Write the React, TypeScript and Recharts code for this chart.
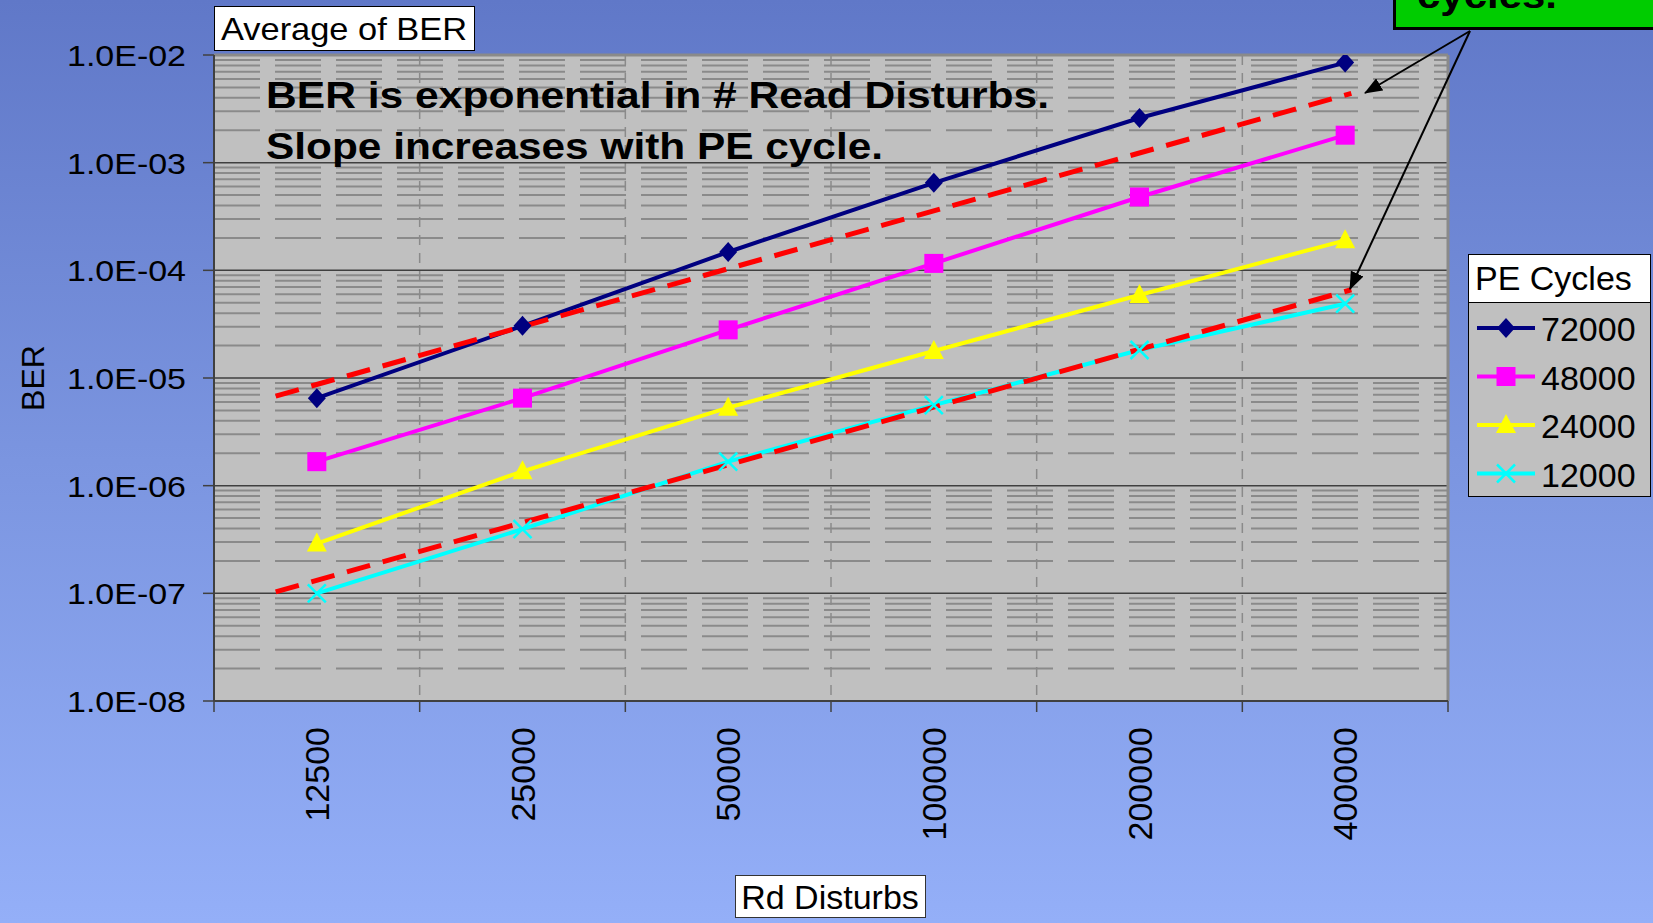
import React from 'react';
import { CartesianGrid, Line, LineChart, ReferenceLine, XAxis, YAxis } from 'recharts';

// Rd Disturbs categories
const rdDisturbs = ['12500', '25000', '50000', '100000', '200000', '400000'];

// Average of BER per PE cycle count
const ber72000 = [6.5e-6, 3.05e-5, 1.48e-4, 6.5e-4, 2.6e-3, 8.5e-3];
const ber48000 = [1.67e-6, 6.5e-6, 2.8e-5, 1.16e-4, 4.8e-4, 1.8e-3];
const ber24000 = [2.9e-7, 1.36e-6, 5.3e-6, 1.78e-5, 5.9e-5, 1.9e-4];
const ber12000 = [1.0e-7, 3.95e-7, 1.67e-6, 5.6e-6, 1.82e-5, 4.9e-5];

// exponential trendlines (end points, in category units)
const trendX = [-0.2, 5.03];
const trendHigh = [6.8e-6, 4.4e-3];
const trendLow = [1.03e-7, 6.6e-5];

const decades = [1e-8, 1e-7, 1e-6, 1e-5, 1e-4, 1e-3, 1e-2];

const FONT = '"Liberation Sans", Arial, sans-serif';

type Shape = 'diamond' | 'square' | 'triangle' | 'cross';

const series: { key: string; name: string; color: string; shape: Shape; values: number[] }[] = [
  { key: 'pe72000', name: '72000', color: '#000080', shape: 'diamond', values: ber72000 },
  { key: 'pe48000', name: '48000', color: '#ff00ff', shape: 'square', values: ber48000 },
  { key: 'pe24000', name: '24000', color: '#ffff00', shape: 'triangle', values: ber24000 },
  { key: 'pe12000', name: '12000', color: '#00ffff', shape: 'cross', values: ber12000 }
];

const rows = rdDisturbs.map((label, i) => {
  const row: Record<string, any> = { x: i, label };
  series.forEach((s) => {
    row[s.key] = s.values[i];
  });
  return row;
});

const highRows = trendX.map((x, i) => ({ x, ber: trendHigh[i] }));
const lowRows = trendX.map((x, i) => ({ x, ber: trendLow[i] }));

// category boundaries and centres on the x axis
const boundaries = [...rdDisturbs.map((_, i) => i - 0.5), rdDisturbs.length - 0.5];
const xTicks = [...boundaries, ...rdDisturbs.map((_, i) => i)].sort((a, b) => a - b);

// log minor grid (2..9 in each decade)
const minorGrid = decades.slice(0, -1).flatMap((d) => [2, 3, 4, 5, 6, 7, 8, 9].map((m) => m * d));

const formatSci = (v: number) => {
  const exp = Math.round(Math.log10(v));
  const sign = exp < 0 ? '-' : '+';
  return `1.0E${sign}${String(Math.abs(exp)).padStart(2, '0')}`;
};

const Marker = ({ shape, cx, cy, color }: { shape: Shape; cx: number; cy: number; color: string }) => {
  if (shape === 'diamond') {
    return <polygon points={`${cx},${cy - 10} ${cx + 9},${cy} ${cx},${cy + 10} ${cx - 9},${cy}`} fill={color} />;
  }
  if (shape === 'square') {
    return <rect x={cx - 9.5} y={cy - 9.5} width={19} height={19} fill={color} />;
  }
  if (shape === 'triangle') {
    return <polygon points={`${cx},${cy - 11} ${cx + 10},${cy + 8} ${cx - 10},${cy + 8}`} fill={color} />;
  }
  return (
    <g stroke={color} strokeWidth={2.5}>
      <line x1={cx - 9} y1={cy - 9} x2={cx + 9} y2={cy + 9} />
      <line x1={cx - 9} y1={cy + 9} x2={cx + 9} y2={cy - 9} />
    </g>
  );
};

const XTick = (props: any) => {
  const { x, y, payload } = props;
  const v = payload.value as number;
  if (Number.isInteger(v)) {
    const tx = x + 12;
    const ty = y + 26;
    return (
      <text x={tx} y={ty} transform={`rotate(-90, ${tx}, ${ty})`} textAnchor="end" fontSize={34} fontFamily={FONT} fill="#000">
        {rdDisturbs[v]}
      </text>
    );
  }
  return <line x1={x} x2={x} y1={y} y2={y + 11} stroke="#404040" strokeWidth={1.5} />;
};

const YTick = (props: any) => {
  const { x, y, payload } = props;
  return (
    <text x={x} y={y + 11} textAnchor="end" fontSize={30} fontFamily={FONT} fill="#000" textLength={119} lengthAdjust="spacingAndGlyphs">
      {formatSci(payload.value)}
    </text>
  );
};

const Overlay = () => (
  <svg width={1653} height={923} style={{ position: 'absolute', left: 0, top: 0, pointerEvents: 'none' }}>
    <defs>
      <marker id="head" markerUnits="userSpaceOnUse" markerWidth={18} markerHeight={14} refX={17} refY={7} orient="auto">
        <polygon points="0,0 18,7 0,14" fill="#000" />
      </marker>
    </defs>

    {/* title box */}
    <rect x={214.5} y={6.5} width={260} height={44} fill="#fff" stroke="#000" strokeWidth={1} />
    <text x={221} y={40} fontSize={32} fontFamily={FONT} textLength={246} lengthAdjust="spacingAndGlyphs">
      Average of BER
    </text>

    {/* annotation */}
    <text x={266} y={108} fontSize={37} fontWeight="bold" fontFamily={FONT} textLength={783} lengthAdjust="spacingAndGlyphs">
      BER is exponential in # Read Disturbs.
    </text>
    <text x={266} y={159} fontSize={37} fontWeight="bold" fontFamily={FONT} textLength={617} lengthAdjust="spacingAndGlyphs">
      Slope increases with PE cycle.
    </text>

    {/* axis titles */}
    <text x={44} y={378} transform="rotate(-90, 44, 378)" textAnchor="middle" fontSize={32} fontFamily={FONT}>
      BER
    </text>
    <rect x={735.5} y={875.5} width={190} height={42} fill="#fff" stroke="#333" strokeWidth={1} />
    <text x={830} y={909} textAnchor="middle" fontSize={34} fontFamily={FONT}>
      Rd Disturbs
    </text>

    {/* green callout */}
    <rect x={1394.5} y={-10} width={280} height={38.5} fill="#00cc00" stroke="#000" strokeWidth={3} />
    <text x={1417} y={8} fontSize={37} fontWeight="bold" fontFamily={FONT} textLength={140} lengthAdjust="spacingAndGlyphs">
      cycles.
    </text>
    <line x1={1470} y1={31} x2={1365} y2={93} stroke="#000" strokeWidth={2} markerEnd="url(#head)" />
    <line x1={1470} y1={31} x2={1350} y2={289} stroke="#000" strokeWidth={2} markerEnd="url(#head)" />

    {/* legend */}
    <rect x={1468.5} y={254.5} width={182} height={242} fill="#c0c0c0" stroke="#000" strokeWidth={1} />
    <rect x={1468.5} y={254.5} width={182} height={48} fill="#fff" stroke="#000" strokeWidth={1} />
    <text x={1475} y={290} fontSize={34} fontFamily={FONT}>
      PE Cycles
    </text>
    {series.map((s, i) => {
      const cy = 328 + i * 48.5;
      return (
        <g key={s.key}>
          <line x1={1477} x2={1535} y1={cy} y2={cy} stroke={s.color} strokeWidth={4} />
          <Marker shape={s.shape} cx={1506} cy={cy} color={s.color} />
          <text x={1541} y={cy + 13} fontSize={34} fontFamily={FONT}>
            {s.name}
          </text>
        </g>
      );
    })}
  </svg>
);

export default function App() {
  return (
    <div
      style={{
        position: 'absolute',
        left: 0,
        top: 0,
        width: 1653,
        height: 923,
        overflow: 'hidden',
        background: 'linear-gradient(to bottom, #6078c8 0%, #7b95e0 50%, #94aff8 100%)'
      }}
    >
      <LineChart width={1653} height={923} data={rows} margin={{ top: 55, right: 205, bottom: 0, left: 14 }}>
        <CartesianGrid
          yAxisId="minor"
          fill="#c0c0c0"
          fillOpacity={1}
          vertical={false}
          stroke="#8a8a8a"
          strokeWidth={2}
          strokeDasharray="46 15"
        />
        <CartesianGrid xAxisId="bounds" horizontal={false} stroke="#8a8a8a" strokeWidth={1.5} strokeDasharray="10 8" />
        <CartesianGrid vertical={false} stroke="#404040" strokeWidth={1.5} />
        <XAxis
          type="number"
          dataKey="x"
          domain={[-0.5, rdDisturbs.length - 0.5]}
          ticks={xTicks}
          interval={0}
          allowDataOverflow
          height={222}
          tickSize={0}
          tickMargin={0}
          tickLine={false}
          tick={(p: any) => <XTick {...p} />}
          axisLine={{ stroke: '#404040', strokeWidth: 2 }}
        />
        <XAxis
          xAxisId="bounds"
          type="number"
          dataKey="x"
          hide
          domain={[-0.5, rdDisturbs.length - 0.5]}
          ticks={boundaries.slice(1, -1)}
          interval={0}
          allowDataOverflow
        />
        <YAxis
          scale="log"
          domain={[1e-8, 1e-2]}
          ticks={decades}
          interval={0}
          allowDataOverflow
          width={200}
          tickSize={11}
          tickMargin={17}
          tick={(p: any) => <YTick {...p} />}
          tickLine={{ stroke: '#404040', strokeWidth: 1.5 }}
          axisLine={{ stroke: '#404040', strokeWidth: 2 }}
        />
        <YAxis yAxisId="minor" hide scale="log" domain={[1e-8, 1e-2]} ticks={minorGrid} interval={0} allowDataOverflow />
        <ReferenceLine y={1e-2} stroke="#8a8a8a" strokeWidth={3} />
        <ReferenceLine x={rdDisturbs.length - 0.5} stroke="#8a8a8a" strokeWidth={3} />
        {series.map((s) => (
          <Line
            key={s.key}
            type="linear"
            dataKey={s.key}
            name={s.name}
            stroke={s.color}
            strokeWidth={4}
            dot={(p: any) => <Marker key={`${s.key}-${p.index}`} shape={s.shape} cx={p.cx} cy={p.cy} color={s.color} />}
            activeDot={false}
            isAnimationActive={false}
          />
        ))}
        <Line
          data={highRows}
          type="linear"
          dataKey="ber"
          stroke="#ff0000"
          strokeWidth={5}
          strokeDasharray="24 13"
          dot={false}
          activeDot={false}
          isAnimationActive={false}
        />
        <Line
          data={lowRows}
          type="linear"
          dataKey="ber"
          stroke="#ff0000"
          strokeWidth={5}
          strokeDasharray="24 13"
          dot={false}
          activeDot={false}
          isAnimationActive={false}
        />
      </LineChart>
      <Overlay />
    </div>
  );
}
